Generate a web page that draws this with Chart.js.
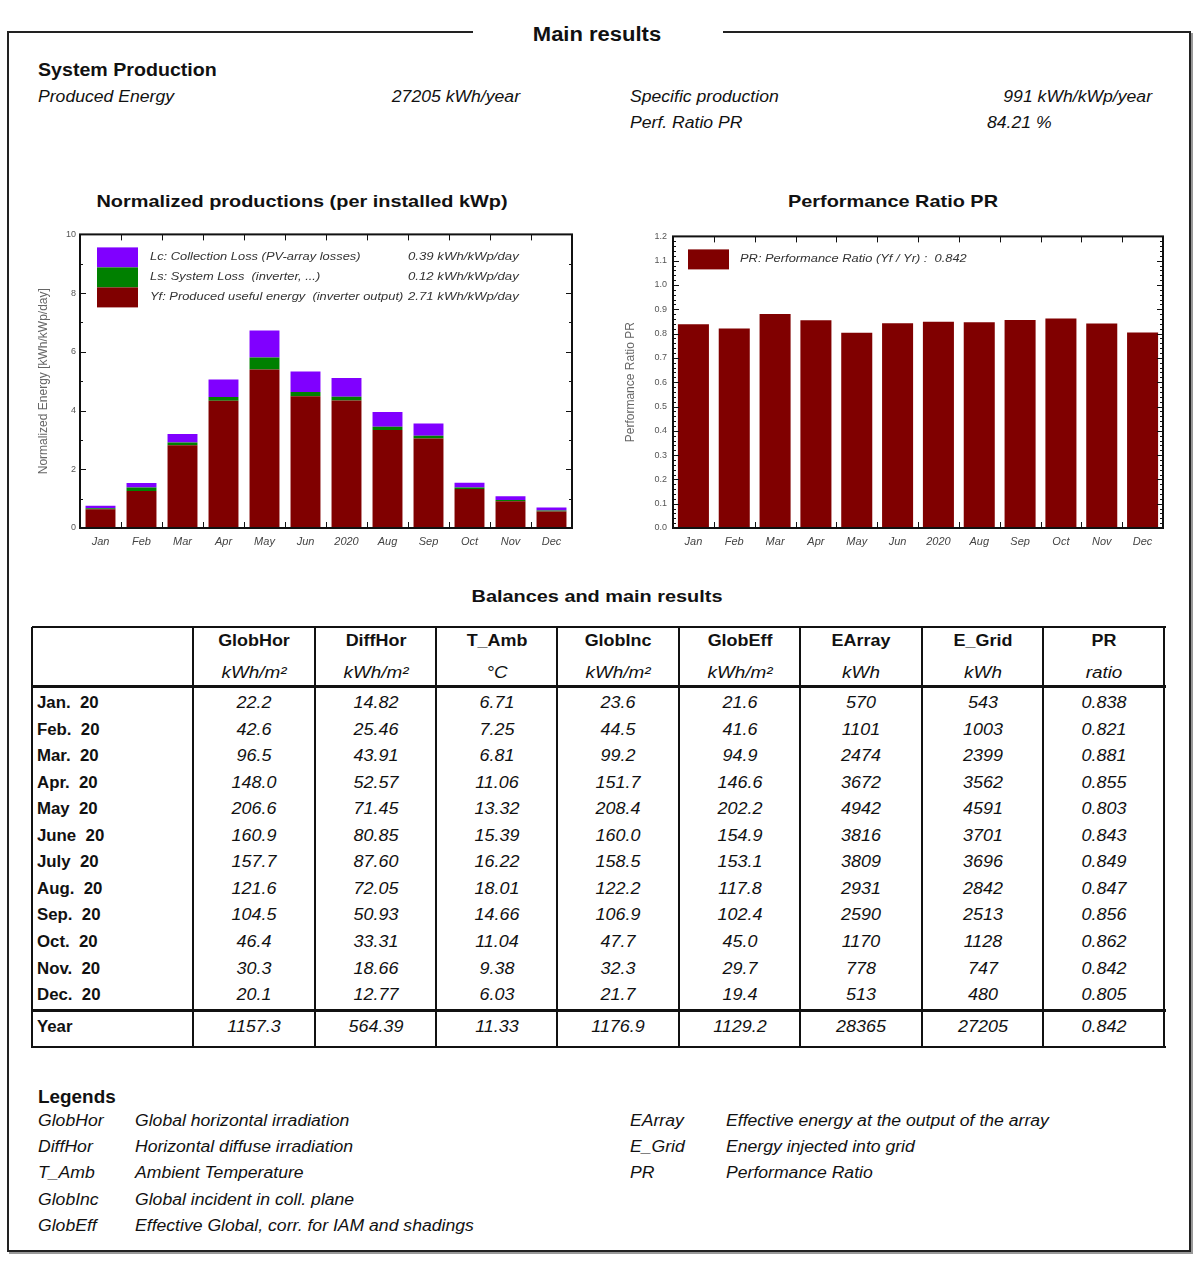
<!DOCTYPE html>
<html><head><meta charset="utf-8">
<script src="https://cdn.jsdelivr.net/npm/chart.js@4.4.1/dist/chart.umd.min.js"></script>
<style>
body{margin:0;width:1200px;height:1285px;background:#fff;font-family:"Liberation Sans",Arial,sans-serif;color:#111;position:relative;overflow:hidden}
.t{position:absolute;white-space:pre;line-height:20px;height:20px;font-size:16px;transform-origin:left center;transform:scaleX(var(--s,1.1))}
.b{font-weight:bold}.i{font-style:italic}
.c{transform-origin:center;transform:translateX(-50%) scaleX(var(--s,1.1))}
.r{transform-origin:right center;transform:translateX(-100%) scaleX(var(--s,1.1))}
#frame{position:absolute;left:7px;top:31px;width:1184px;height:1221px;box-sizing:border-box;border:2px solid #222;box-shadow:2px 2px 0 #999}
#gap{position:absolute;left:473px;top:26px;width:250px;height:12px;background:#fff}
.hl{position:absolute;background:#111}
.vl{position:absolute;background:#111;width:2px}
canvas{position:absolute}
</style></head><body>
<div id="frame"></div><div id="gap"></div>
<div class="t b c" style="left:597px;top:24px;font-size:20px">Main results</div>
<div class="t b" style="left:38px;top:60px;font-size:18px;--s:1.09">System Production</div>
<div class="t i" style="left:38px;top:87px">Produced Energy</div>
<div class="t i r" style="left:520px;top:87px">27205 kWh/year</div>
<div class="t i" style="left:630px;top:87px">Specific production</div>
<div class="t i r" style="left:1152px;top:87px">991 kWh/kWp/year</div>
<div class="t i" style="left:630px;top:113px">Perf. Ratio PR</div>
<div class="t i" style="left:987px;top:113px">84.21 %</div>
<div class="t b c" style="left:302px;top:192px;font-size:17px;--s:1.17">Normalized productions (per installed kWp)</div>
<div class="t b c" style="left:893px;top:192px;font-size:17px;--s:1.17">Performance Ratio PR</div>
<canvas id="c1" width="550" height="330" style="left:30px;top:225px"></canvas>
<canvas id="c2" width="560" height="330" style="left:615px;top:225px"></canvas>
<div class="t b c" style="left:597px;top:587px;font-size:17px;--s:1.17">Balances and main results</div>
<div id="tbl"></div>
<div id="leg"></div>
<script>
// ---- chart data ----
const xLabels = ['Jan','Feb','Mar','Apr','May','Jun','2020','Aug','Sep','Oct','Nov','Dec'];
const yfData = [0.64,1.26,2.82,4.33,5.40,4.49,4.34,3.34,3.05,1.33,0.91,0.56];
const lsData = [0.03,0.12,0.09,0.13,0.41,0.14,0.13,0.11,0.09,0.05,0.04,0.04];
const lcData = [0.09,0.15,0.29,0.60,0.92,0.70,0.64,0.50,0.42,0.16,0.13,0.10];
const prData = [0.838,0.821,0.881,0.855,0.803,0.843,0.849,0.847,0.856,0.862,0.842,0.805];
const normLegendLabels = ['Lc: Collection Loss (PV-array losses)','Ls: System Loss  (inverter, ...)','Yf: Produced useful energy  (inverter output)'];
const normLegendValues = ['0.39 kWh/kWp/day','0.12 kWh/kWp/day','2.71 kWh/kWp/day'];
const prLegendLabel = 'PR: Performance Ratio (Yf / Yr) :  0.842';

// ---- table data ----
const rowLabels = ['Jan.  20','Feb.  20','Mar.  20','Apr.  20','May  20','June  20','July  20','Aug.  20','Sep.  20','Oct.  20','Nov.  20','Dec.  20'];
const colNames = ['GlobHor','DiffHor','T_Amb','GlobInc','GlobEff','EArray','E_Grid','PR'];
const colUnits = ['kWh/m²','kWh/m²','°C','kWh/m²','kWh/m²','kWh','kWh','ratio'];
const colDecimals = [1,2,2,1,1,0,0,3];
const globHor = [22.2,42.6,96.5,148.0,206.6,160.9,157.7,121.6,104.5,46.4,30.3,20.1];
const diffHor = [14.82,25.46,43.91,52.57,71.45,80.85,87.60,72.05,50.93,33.31,18.66,12.77];
const tAmb = [6.71,7.25,6.81,11.06,13.32,15.39,16.22,18.01,14.66,11.04,9.38,6.03];
const globInc = [23.6,44.5,99.2,151.7,208.4,160.0,158.5,122.2,106.9,47.7,32.3,21.7];
const globEff = [21.6,41.6,94.9,146.6,202.2,154.9,153.1,117.8,102.4,45.0,29.7,19.4];
const eArray = [570,1101,2474,3672,4942,3816,3809,2931,2590,1170,778,513];
const eGrid = [543,1003,2399,3562,4591,3701,3696,2842,2513,1128,747,480];
const prRatio = [0.838,0.821,0.881,0.855,0.803,0.843,0.849,0.847,0.856,0.862,0.842,0.805];
const yearValues = [1157.3,564.39,11.33,1176.9,1129.2,28365,27205,0.842];

const legendAbbrL = ['GlobHor','DiffHor','T_Amb','GlobInc','GlobEff'];
const legendDescL = ['Global horizontal irradiation','Horizontal diffuse irradiation','Ambient Temperature','Global incident in coll. plane','Effective Global, corr. for IAM and shadings'];
const legendAbbrR = ['EArray','E_Grid','PR'];
const legendDescR = ['Effective energy at the output of the array','Energy injected into grid','Performance Ratio'];

// ---- build table ----
(function(){
  const cols = [globHor,diffHor,tAmb,globInc,globEff,eArray,eGrid,prRatio];
  const xs = [32,193,315,436,557,679,800,922,1043,1164];
  let h = '';
  xs.forEach(x=>{h+=`<div class="vl" style="left:${x-1}px;top:627px;height:421px"></div>`;});
  h+=`<div class="hl" style="left:32px;top:626px;width:1134px;height:2px"></div>`;
  h+=`<div class="hl" style="left:32px;top:685px;width:1134px;height:3px"></div>`;
  h+=`<div class="hl" style="left:32px;top:1009px;width:1134px;height:3px"></div>`;
  h+=`<div class="hl" style="left:32px;top:1046px;width:1134px;height:2px"></div>`;
  colNames.forEach((n,j)=>{
    const cx=(xs[j+1]+xs[j+2])/2;
    h+=`<div class="t b c" style="left:${cx}px;top:631px;--s:1.12">${n}</div>`;
    h+=`<div class="t i c" style="left:${cx}px;top:663px;--s:1.18">${colUnits[j]}</div>`;
  });
  rowLabels.forEach((r,i)=>{
    const cy = 703 + i*26.55;
    h+=`<div class="t b" style="left:37px;top:${cy-10}px;--s:1.05">${r}</div>`;
    cols.forEach((c,j)=>{
      const cx=(xs[j+1]+xs[j+2])/2;
      h+=`<div class="t i c" style="left:${cx}px;top:${cy-10}px;--s:1.12">${c[i].toFixed(colDecimals[j])}</div>`;
    });
  });
  h+=`<div class="t b" style="left:37px;top:1017px;--s:1.05">Year</div>`;
  yearValues.forEach((v,j)=>{
    const cx=(xs[j+1]+xs[j+2])/2;
    h+=`<div class="t i c" style="left:${cx}px;top:1017px;--s:1.12">${v.toFixed(colDecimals[j])}</div>`;
  });
  document.getElementById('tbl').innerHTML=h;
  let g = `<div class="t b" style="left:38px;top:1087px;font-size:18px;--s:1.05">Legends</div>`;
  const ys=[1121,1147,1173,1200,1226];
  legendAbbrL.forEach((a,i)=>{g+=`<div class="t i" style="left:38px;top:${ys[i]-10}px">${a}</div><div class="t i" style="left:135px;top:${ys[i]-10}px">${legendDescL[i]}</div>`;});
  legendAbbrR.forEach((a,i)=>{g+=`<div class="t i" style="left:630px;top:${ys[i]-10}px">${a}</div><div class="t i" style="left:726px;top:${ys[i]-10}px">${legendDescR[i]}</div>`;});
  document.getElementById('leg').innerHTML=g;
})();

// ---- chart plugin: frame, inward ticks, legend ----
function stretchText(ctx, text, x, y, s){
  ctx.save(); ctx.translate(x,y); ctx.scale(s,1); ctx.fillText(text,0,0); ctx.restore();
}
const frameTicks = {
  id:'frameTicks',
  afterDatasetsDraw(chart, args, o){
    const {ctx, chartArea:a, scales:{x,y}} = chart;
    ctx.save();
    ctx.strokeStyle='#111'; ctx.lineWidth=1;
    ctx.beginPath();
    const n = chart.data.labels.length;
    for(let i=1;i<n;i++){
      const px = Math.round((x.getPixelForValue(i-1)+x.getPixelForValue(i))/2)+0.5;
      ctx.moveTo(px,a.top); ctx.lineTo(px,a.top+6);
      ctx.moveTo(px,a.bottom); ctx.lineTo(px,a.bottom-6);
    }
    const steps = Math.round((o.max-o.min)/o.minor);
    for(let k=0;k<=steps;k++){
      const v = o.min + k*o.minor;
      const py = Math.round(y.getPixelForValue(v))+0.5;
      const isMajor = Math.abs(v/o.major - Math.round(v/o.major))<1e-6;
      const len = isMajor?6:3;
      ctx.moveTo(a.left,py); ctx.lineTo(a.left+len,py);
      ctx.moveTo(a.right,py); ctx.lineTo(a.right-len,py);
    }
    ctx.stroke();
    ctx.lineWidth=2; ctx.strokeRect(a.left,a.top,a.width,a.height);
    // legend
    o.legend.forEach((it,i)=>{
      const by = a.top + o.ly + i*20;
      ctx.fillStyle = it.color;
      ctx.fillRect(a.left+o.lx, by, 41, 20);
      ctx.fillStyle='#333';
      ctx.font='italic 11px "Liberation Sans", Arial, sans-serif';
      ctx.textBaseline='middle';
      stretchText(ctx, it.label, a.left+o.tx, by+10, 1.17);
      if(it.value) stretchText(ctx, it.value, a.left+o.vx, by+10, 1.2);
    });
    ctx.restore();
  }
};
const fam = '"Liberation Sans", Arial, sans-serif';

new Chart(document.getElementById('c1'), {
  type:'bar',
  data:{labels:xLabels, datasets:[
    {label:'Yf', data:yfData, backgroundColor:'#800000', barPercentage:0.73, categoryPercentage:1},
    {label:'Ls', data:lsData, backgroundColor:'#008000', barPercentage:0.73, categoryPercentage:1},
    {label:'Lc', data:lcData, backgroundColor:'#8000ff', barPercentage:0.73, categoryPercentage:1}
  ]},
  options:{
    responsive:false, animation:false, devicePixelRatio:1,
    layout:{padding:{top:8,right:8,left:6,bottom:0}},
    plugins:{legend:{display:false}, tooltip:{enabled:false},
      frameTicks:{min:0,max:10,minor:1,major:2,lx:17,ly:13,tx:70,vx:328,
        legend:[{color:'#8000ff',label:normLegendLabels[0],value:normLegendValues[0]},
                {color:'#008000',label:normLegendLabels[1],value:normLegendValues[1]},
                {color:'#800000',label:normLegendLabels[2],value:normLegendValues[2]}]}},
    scales:{
      x:{stacked:true, grid:{display:false,drawTicks:false}, border:{display:false},
        ticks:{font:{size:11,style:'italic',family:fam}, color:'#444', padding:7, maxRotation:0, autoSkip:false},
        afterFit(s){s.height=27;}},
      y:{stacked:true, min:0, max:10, grid:{display:false,drawTicks:false}, border:{display:false},
        ticks:{stepSize:2, font:{size:9,family:fam}, color:'#555', padding:4},
        title:{display:true, text:'Normalized Energy [kWh/kWp/day]', font:{size:12,family:fam}, color:'#666', padding:0},
        afterFit(s){s.width=44;}}
    }
  },
  plugins:[frameTicks]
});

new Chart(document.getElementById('c2'), {
  type:'bar',
  data:{labels:xLabels, datasets:[
    {label:'PR', data:prData, backgroundColor:'#800000', barPercentage:0.76, categoryPercentage:1}
  ]},
  options:{
    responsive:false, animation:false, devicePixelRatio:1,
    layout:{padding:{top:8,right:12,left:8,bottom:0}},
    plugins:{legend:{display:false}, tooltip:{enabled:false},
      frameTicks:{min:0,max:1.2,minor:0.02,major:0.1,lx:15,ly:13,tx:67,vx:0,
        legend:[{color:'#800000',label:prLegendLabel}]}},
    scales:{
      x:{grid:{display:false,drawTicks:false}, border:{display:false},
        ticks:{font:{size:11,style:'italic',family:fam}, color:'#444', padding:7, maxRotation:0, autoSkip:false},
        afterFit(s){s.height=27;}},
      y:{min:0, max:1.2, grid:{display:false,drawTicks:false}, border:{display:false},
        ticks:{stepSize:0.1, font:{size:9,family:fam}, color:'#555', padding:6, callback:v=>Number(v).toFixed(1)},
        title:{display:true, text:'Performance Ratio PR', font:{size:12,family:fam}, color:'#666', padding:0},
        afterFit(s){s.width=50;}}
    }
  },
  plugins:[frameTicks]
});
</script>
</body></html>
